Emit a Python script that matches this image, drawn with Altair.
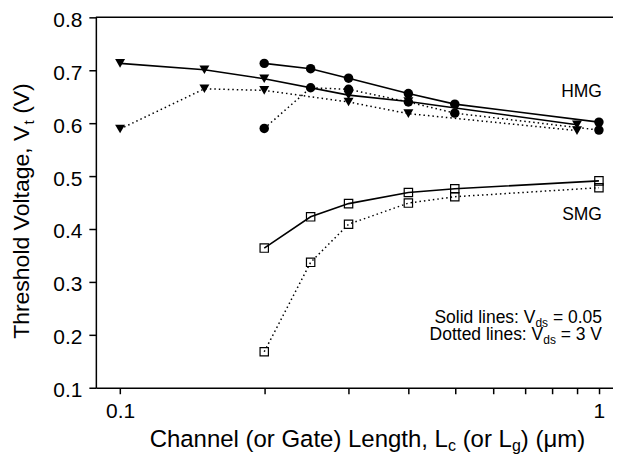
import altair as alt
import pandas as pd

FONT = "Liberation Sans"

# ---- data ----
tri_x = [0.1, 0.15, 0.2, 0.3, 0.4, 0.9]
tri_solid = [0.713, 0.701, 0.684, 0.653, 0.641, 0.597]
tri_dotted = [0.589, 0.665, 0.662, 0.640, 0.618, 0.586]

circ_x = [0.2, 0.25, 0.3, 0.4, 0.5, 1.0]
circ_solid = [0.713, 0.703, 0.685, 0.656, 0.636, 0.602]
circ_dotted = [0.590, 0.667, 0.664, 0.640, 0.619, 0.587]

sq_x = [0.2, 0.25, 0.3, 0.4, 0.5, 1.0]
sq_solid = [0.364, 0.423, 0.448, 0.469, 0.476, 0.491]
sq_dotted = [0.168, 0.337, 0.409, 0.449, 0.461, 0.478]

x_ticks = [0.1, 0.2, 0.3, 0.4, 0.5, 0.6, 0.7, 0.8, 0.9, 1.0]
y_ticks = [0.1, 0.2, 0.3, 0.4, 0.5, 0.6, 0.7, 0.8]

group_labels = ["HMG", "SMG"]
group_label_y = [0.650, 0.417]

rows = []
def add(series, marker, style, xs, ys):
    for a, b in zip(xs, ys):
        rows.append({"series": series, "marker": marker, "style": style, "L": a, "Vt": b})

add("tri_s", "tri", "solid", tri_x, tri_solid)
add("tri_d", "tri", "dotted", tri_x, tri_dotted)
add("circ_s", "circ", "solid", circ_x, circ_solid)
add("circ_d", "circ", "dotted", circ_x, circ_dotted)
add("sq_s", "sq", "solid", sq_x, sq_solid)
add("sq_d", "sq", "dotted", sq_x, sq_dotted)
df = pd.DataFrame(rows)

W_PX, H_PX = 518, 371

xscale = alt.Scale(type="log", domain=[0.089, 1.07], nice=False)
yscale = alt.Scale(domain=[0.1, 0.8], nice=False, zero=False)

xaxis = alt.Axis(values=x_ticks, title=None, grid=False, tickSize=6, labelPadding=7,
                 labelExpr="datum.value < 0.15 ? '0.1' : (datum.value > 0.95 ? '1' : '')")
yaxis = alt.Axis(values=y_ticks, title=None, grid=False, tickSize=7, labelPadding=7,
                 format=".1f", labelOffset=3)

base = alt.Chart(df).encode(
    x=alt.X("L:Q", scale=xscale, axis=xaxis),
    y=alt.Y("Vt:Q", scale=yscale, axis=yaxis),
)

solid_lines = base.transform_filter("datum.style == 'solid'").mark_line(
    color="black", strokeWidth=1.6).encode(detail="series:N")
dotted_lines = base.transform_filter("datum.style == 'dotted'").mark_line(
    color="black", strokeWidth=1.5, strokeDash=[1.5, 3]).encode(detail="series:N")

circles = base.transform_filter("datum.marker == 'circ'").mark_point(
    shape="circle", filled=True, color="black", size=90, opacity=1)
triangles = base.transform_filter("datum.marker == 'tri'").mark_point(
    shape="triangle-down", filled=True, color="black", size=100, opacity=1)
squares = base.transform_filter("datum.marker == 'sq'").mark_point(
    shape="square", filled=False, color="black", size=70, strokeWidth=1.2, opacity=1)

top_rule = alt.Chart(pd.DataFrame({"v": [0.8]})).mark_rule(
    color="black", strokeWidth=1.5).encode(y=alt.Y("v:Q", scale=yscale))

lab_df = pd.DataFrame({"t": group_labels, "L": [1.0, 1.0], "Vt": group_label_y})
group_text = alt.Chart(lab_df).mark_text(
    align="right", baseline="alphabetic", dx=3, fontSize=17.5, font=FONT, color="black"
).encode(x=alt.X("L:Q", scale=xscale), y=alt.Y("Vt:Q", scale=yscale), text="t:N")

# ---- text with subscripts, laid out segment by segment ----
CW = {" ": 278, "(": 333, ")": 333, ",": 278, ".": 278, ":": 278, "=": 584,
      "0": 556, "1": 556, "2": 556, "3": 556, "4": 556, "5": 556, "6": 556, "7": 556, "8": 556, "9": 556,
      "A": 667, "C": 722, "D": 722, "G": 778, "H": 722, "L": 556, "M": 833, "S": 667, "T": 611, "V": 667,
      "a": 556, "c": 500, "d": 556, "e": 556, "g": 556, "h": 556, "i": 222, "l": 222, "m": 833,
      "n": 556, "o": 556, "r": 333, "s": 500, "t": 278, "μ": 577}

def tw(s, size):
    return sum(CW.get(ch, 556) for ch in s) * size / 1000.0

one = pd.DataFrame({"a": [0]})
def seg(text, px, py, fs, angle=0):
    return alt.Chart(one).mark_text(
        text=text, fontSize=fs, font=FONT, color="black", align="left",
        baseline="alphabetic", angle=angle
    ).encode(x=alt.value(px), y=alt.value(py))

def lead(s):
    return len(s) - len(s.lstrip(" "))

text_layers = []

# x title
xt = [("Channel (or Gate) Length, L", 24, 0), ("c", 16, 4), (" (or L", 24, 0), ("g", 16, 4), (") (μm)", 24, 0)]
total = sum(tw(s, f) for s, f, _ in xt)
cur = 272 - total / 2
for s, f, off in xt:
    adv = tw(" " * lead(s), f)
    text_layers.append(seg(s.strip(" "), cur + adv, 430 + off, f))
    cur += tw(s, f)

# y title (rotated)
YS = 23
yt = [("Threshold Voltage, V", YS, 0), ("t", 15, 5), (" (V)", YS, 0)]
total = sum(tw(s, f) for s, f, _ in yt)
cur = 194 + total / 2
for s, f, off in yt:
    adv = tw(" " * lead(s), f)
    text_layers.append(seg(s.strip(" "), -67 + off, cur - adv, f, angle=270))
    cur -= tw(s, f)

# annotation
for line, base_y in [([("Solid lines: V", 17.5, 0), ("ds", 12, 4.5), (" = 0.05", 17.5, 0)], 306),
                     ([("Dotted lines: V", 17.5, 0), ("ds", 12, 4.5), (" = 3 V", 17.5, 0)], 323)]:
    total = sum(tw(s, f) for s, f, _ in line)
    cur = 507 - total
    for s, f, off in line:
        adv = tw(" " * lead(s), f)
        text_layers.append(seg(s.strip(" "), cur + adv, base_y + off, f))
        cur += tw(s, f)

chart = alt.layer(
    top_rule, dotted_lines, solid_lines, squares, triangles, circles, group_text, *text_layers
).properties(
    width=W_PX, height=H_PX,
    autosize=alt.AutoSizeParams(type="none"),
    padding={"left": 88, "top": 9, "right": 0, "bottom": 68},
).configure_view(stroke=None).configure_axis(
    domainColor="black", domainWidth=1.5, tickColor="black", tickWidth=1.5,
    labelColor="black", labelFont=FONT, labelFontSize=21,
)

chart.save("out.html", embed_options={"renderer": "svg", "actions": False})
